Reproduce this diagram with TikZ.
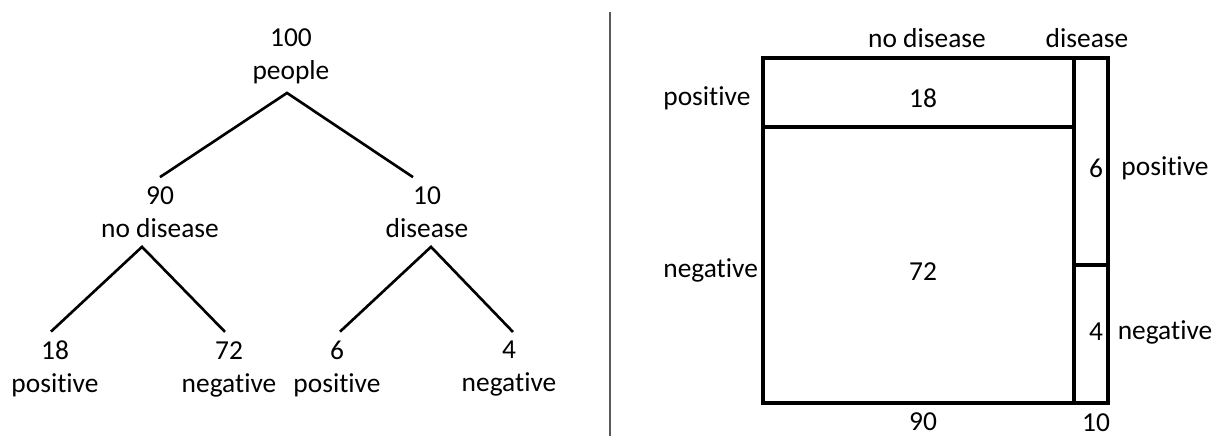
\documentclass[tikz,border=0pt]{standalone}
\usepackage{fontspec}
\setmainfont{Carlito}[Ligatures=NoCommon]

\newlength{\px}
\setlength{\px}{0.02cm}

\begin{document}
\begin{tikzpicture}[
    x=0.02cm, y=-0.02cm,
    % styles
    txt/.style     = {font=\fontsize{15.6}{18.8}\selectfont, inner sep=0pt},
    tally/.style   = {txt, align=center, inner ysep=0.18cm},
    branch/.style  = {line width=1.5pt},
    cell/.style    = {line width=2pt},
    divider/.style = {line width=0.8pt, black!65},
]
\useasboundingbox (0,0) rectangle (1220,436);

% -- tree -------------------------------------------------------------------
\node[tally] (root)  at (291,56)  {100\\people};
\node[tally] (nodis) at (160,212) {90\\no disease};
\node[tally] (dis)   at (427,212) {10\\disease};
\node[tally] (pos1)  at (55,369)  {18\\positive};
\node[tally] (neg1)  at (229,369) {72\\negative};
\node[tally] (pos2)  at (337,369) {6\\positive};
\node[tally] (neg2)  at (509,369) {4\\negative};

\draw[branch] (nodis.north) -- ([xshift=-4*\px]root.south)
              -- ([xshift=-14*\px]dis.north);
\draw[branch] ([xshift=-4*\px]pos1.north) -- ([xshift=-18*\px]nodis.south)
              -- ([xshift=-4*\px]neg1.north);
\draw[branch] ([xshift=3*\px]pos2.north) -- ([xshift=4*\px]dis.south)
              -- ([xshift=4*\px]neg2.north);

% -- separator --------------------------------------------------------------
\draw[divider] (610,12) -- (610,436);

% -- area diagram -----------------------------------------------------------
\draw[cell] (763,58) rectangle (1108,403);
\draw[cell] (1074,58) -- (1074,403);
\draw[cell] (763,127) -- (1074,127);
\draw[cell] (1074,265) -- (1108,265);

\node[txt] (hnodis) at (927,38) {no disease};
\node[txt] (hdis)   at (1087,38) {disease};
\node[txt, anchor=west] (lpos) at (663,98)  {positive};
\node[txt, anchor=west] (lneg) at (663,270) {negative};
\node[txt] (c18) at (923,98)   {18};
\node[txt] (c72) at (923,272)  {72};
\node[txt] (c6)  at (1096,168) {6};
\node[txt] (c4)  at (1096,332) {4};
\node[txt] (rpos) at (1165,168) {positive};
\node[txt] (rneg) at (1165,332) {negative};
\node[txt] (w90) at (923,422)  {90};
\node[txt] (w10) at (1096,423) {10};

\end{tikzpicture}
\end{document}
